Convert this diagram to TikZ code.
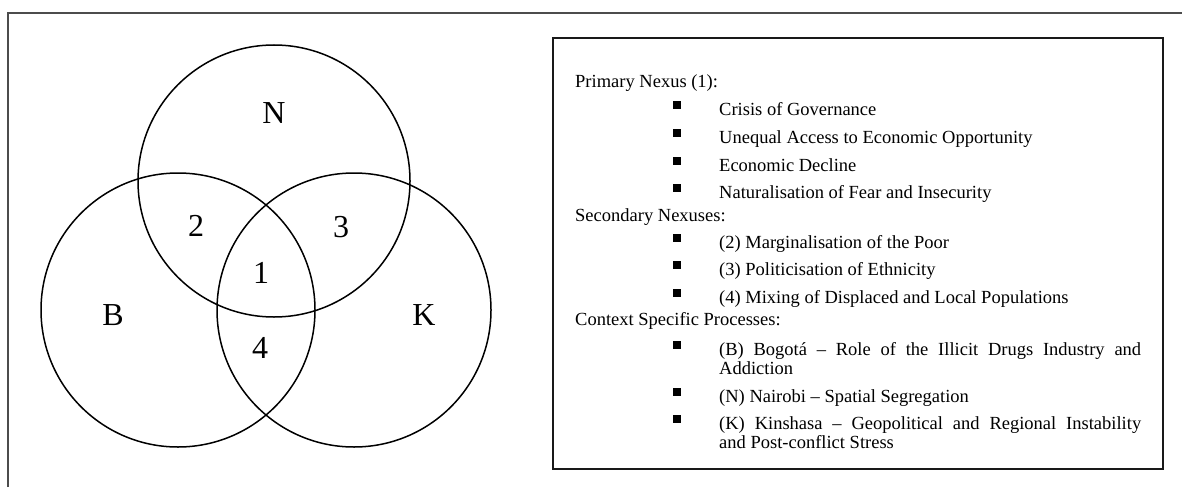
\documentclass[tikz,border=0pt]{standalone}
\usepackage{fontspec}
\setmainfont{Liberation Serif}
\begin{document}
\begin{tikzpicture}[x=1pt,y=-1pt,
  venn/.style={draw=black,line width=1.5pt,circle,minimum size=274pt,inner sep=0pt},
  vlabel/.style={anchor=base,inner sep=0pt,font=\fontsize{32}{36}\selectfont},
  frameline/.style={draw=black!70,line width=1.1pt},
  legendbox/.style={draw=black!90,line width=1.6pt},
  txt/.style={anchor=base west,inner sep=0pt,font=\fontsize{18.5}{20}\selectfont},
  bul/.style={fill=black,inner sep=0pt,minimum size=7.5pt,anchor=south west}
]
\useasboundingbox (0,0) rectangle (1182,487);
% outer frame (top and left)
\draw[frameline] (8,487) -- (8,13) -- (1182,13);
% Venn circles
\node[venn,minimum size=272pt] (cN) at (274,181) {};
\node[venn] (cB) at (178,310) {};
\node[venn] (cK) at (354,310) {};
% Venn labels
\node[vlabel] (lN) at (274,123) {N};
\node[vlabel] (l2) at (196,236) {2};
\node[vlabel] (l3) at (341,237) {3};
\node[vlabel] (l1) at (261,283) {1};
\node[vlabel] (lB) at (113,325) {B};
\node[vlabel] (lK) at (424,325) {K};
\node[vlabel] (l4) at (260,358) {4};
% legend box
\draw[legendbox] (553,38) rectangle (1163,469);
% headings
\node[txt] (h1) at (575,87) {Primary Nexus (1):};
\node[txt] (h2) at (575,221) {Secondary Nexuses:};
\node[txt] (h3) at (575,325) {Context Specific Processes:};
% bullets
\foreach \y/\n in {115/a,143/b,171/c,198/d,248/e,275/f,303/g,355/h,402/i,429/j}{
  \node[bul] (b\n) at (673,\y-6) {};
}
% items
\node[txt] (ia) at (719,115) {Crisis of Governance};
\node[txt] (ib) at (719,143) {Unequal Access to Economic Opportunity};
\node[txt] (ic) at (719,171) {Economic Decline};
\node[txt] (id) at (719,198) {Naturalisation of Fear and Insecurity};
\node[txt] (ie) at (719,248) {(2) Marginalisation of the Poor};
\node[txt] (if) at (719,275) {(3) Politicisation of Ethnicity};
\node[txt] (ig) at (719,303) {(4) Mixing of Displaced and Local Populations};
\node[txt] (ih) at (719,355) {\makebox[422pt][s]{(B) Bogotá – Role of the Illicit Drugs Industry and}};
\node[txt] (ih2) at (719,374) {Addiction};
\node[txt] (ii) at (719,402) {(N) Nairobi – Spatial Segregation};
\node[txt] (ij) at (719,429) {\makebox[422pt][s]{(K) Kinshasa – Geopolitical and Regional Instability}};
\node[txt] (ij2) at (719,448) {and Post-conflict Stress};
\end{tikzpicture}
\end{document}
